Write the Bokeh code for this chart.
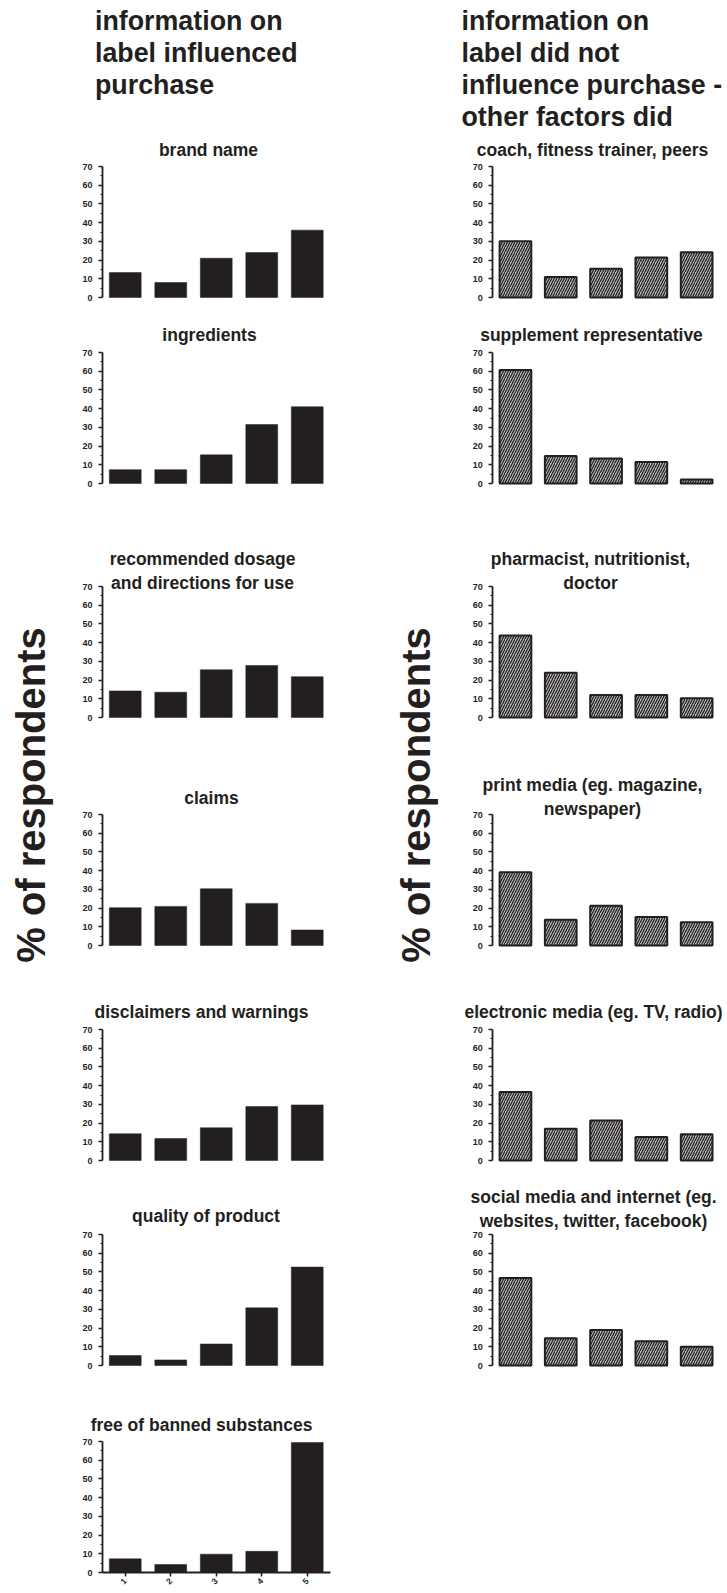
from bokeh.plotting import figure
from bokeh.layouts import row, column
from bokeh.models import Range1d, Label, FixedTicker, ColumnDataSource
from bokeh.core.properties import value
from bokeh.embed import file_html
from bokeh.resources import INLINE
import math

# ---------------- data ----------------
categories = [1, 2, 3, 4, 5]
x_tick_labels = ["1", "2", "3", "4", "5"]
y_ticks = [0, 10, 20, 30, 40, 50, 60, 70]
y_minor_ticks = [5, 15, 25, 35, 45, 55, 65]

heading_left = ["information on", "label influenced", "purchase"]
heading_right = ["information on", "label did not", "influence purchase -", "other factors did"]
y_title = "% of respondents"

left_titles = ["brand name", "ingredients", "recommended dosage\nand directions for use",
               "claims", "disclaimers and warnings", "quality of product",
               "free of banned substances"]
brand_name = [13.3, 8.0, 21.0, 24.0, 36.0]
ingredients = [7.4, 7.4, 15.3, 31.5, 41.0]
dosage_directions = [14.2, 13.5, 25.5, 27.8, 21.8]
claims = [20.2, 20.9, 30.3, 22.5, 8.3]
disclaimers_warnings = [14.3, 11.7, 17.5, 28.8, 29.7]
quality_of_product = [5.3, 3.0, 11.5, 30.8, 52.6]
free_of_banned = [7.3, 4.3, 9.8, 11.3, 69.5]
left_values = [brand_name, ingredients, dosage_directions, claims,
               disclaimers_warnings, quality_of_product, free_of_banned]

right_titles = ["coach, fitness trainer, peers", "supplement representative",
                "pharmacist, nutritionist,\ndoctor", "print media (eg. magazine,\nnewspaper)",
                "electronic media (eg. TV, radio)",
                "social media and internet (eg.\nwebsites, twitter, facebook)"]
coach_trainer_peers = [30.1, 10.9, 15.3, 21.4, 24.2]
supplement_rep = [60.6, 14.7, 13.3, 11.5, 2.1]
pharmacist_doctor = [43.8, 23.9, 12.0, 12.0, 10.3]
print_media = [39.2, 13.8, 21.3, 15.2, 12.4]
electronic_media = [36.6, 17.0, 21.4, 12.6, 14.0]
social_media = [46.8, 14.5, 19.0, 13.0, 10.0]
right_values = [coach_trainer_peers, supplement_rep, pharmacist_doctor,
                print_media, electronic_media, social_media]

# ---------------- layout / style (pixels) ----------------
INK = "#231f20"
FONT = "Liberation Sans"
TOTAL_H = 1592
HEADER_H = 132
FIG_TOP = [132, 303, 489, 723, 951, 1166, 1371]
FRAME_70 = [166, 352, 586, 814, 1029, 1234, 1441]
FRAME_0 = [297, 483, 717, 945, 1160, 1365, 1572]
BELOW0 = 6            # frame extension below the zero line (panels 1-6)
LAST_TITLE_H = 65     # height of the separate title strip of the last panel
LAST_BOTTOM = 20
LEFT_GAP = [17, 17.5, 4.7, 17, 18, 18.5, 16.5]
RIGHT_GAP = [17, 17.5, 4.7, 7, 18, 15.5]
LEFT_TCX = [208, 209, 202, 211, 201, 205.5, 201]
RIGHT_TCX = [592, 591, 590, 592, 593, 593]
TITLE_SIZE = 17.5
LINE_HF = 1.2
HEAD_SIZE = "26.8px"
YT_SIZE = "40px"

LEFT = dict(x0=55, w=285, bl=22, br=5, axis_x=102, pitch=45.5, hx=39.5, ylab=30)
RIGHT = dict(x0=440, w=287, bl=20, br=0, axis_x=492.3, pitch=45.3, hx=21, ylab=415)


def style_axes(p, show_x):
    ya = p.yaxis[0]
    ya.bounds = (0, 70)
    ya.ticker = FixedTicker(ticks=y_ticks, minor_ticks=y_minor_ticks)
    ya.axis_line_color = INK
    ya.axis_line_width = 1.8
    ya.major_tick_line_color = INK
    ya.major_tick_line_width = 1.5
    ya.minor_tick_line_color = INK
    ya.minor_tick_line_width = 1.2
    ya.major_tick_out = 4
    ya.major_tick_in = 0
    ya.minor_tick_out = 2
    ya.minor_tick_in = 0
    ya.major_label_text_font = FONT
    ya.major_label_text_font_style = "bold"
    ya.major_label_text_font_size = "9px"
    ya.major_label_text_color = INK
    ya.major_label_standoff = 6
    if show_x:
        xa = p.xaxis[0]
        xa.bounds = (0.5, 5.5)
        xa.ticker = FixedTicker(ticks=categories)
        xa.major_label_overrides = {c: l for c, l in zip(categories, x_tick_labels)}
        xa.axis_line_color = INK
        xa.axis_line_width = 1.8
        xa.major_tick_line_color = INK
        xa.major_tick_line_width = 1.5
        xa.major_tick_out = 4
        xa.major_tick_in = 0
        xa.minor_tick_out = 0
        xa.minor_tick_in = 0
        xa.major_label_orientation = math.pi / 4
        xa.major_label_text_font = FONT
        xa.major_label_text_font_style = "bold"
        xa.major_label_text_font_size = "8.5px"
        xa.major_label_text_color = INK
        xa.major_label_standoff = 3


def draw_bars(p, vals, hatched):
    src = ColumnDataSource(dict(x=categories, top=vals))
    if hatched:
        p.vbar(x="x", top="top", bottom=0, width=0.7, source=src,
               fill_color="#c4c4c4", line_color=INK, line_width=2,
               hatch_pattern=value("/"), hatch_color=INK, hatch_scale=5, hatch_weight=1.3)
    else:
        p.vbar(x="x", top="top", bottom=0, width=0.7, source=src,
               fill_color=INK, line_color=INK, line_width=0.5)


def title_label(text, x, y, dx=0, dy=0):
    n_lines = text.count("\n") + 1
    return Label(x=x, y=y, x_offset=dx, y_offset=dy + (n_lines - 1) * TITLE_SIZE * LINE_HF / 2,
                 text=text, text_align="center", text_baseline="middle", text_font=FONT,
                 text_font_style="bold", text_font_size=f"{TITLE_SIZE}px",
                 text_color=INK, text_line_height=LINE_HF)


def panel(i, title, vals, hatched, geo, gap, tcx):
    """Panel whose frame also covers its title; y axis pinned at x=0.5."""
    px_per_unit = (FRAME_0[i] - FRAME_70[i]) / 70
    height = FRAME_0[i] - FIG_TOP[i] + BELOW0
    f_left = geo["x0"] + geo["bl"]
    f_right = geo["x0"] + geo["w"] - geo["br"]
    x_start = 0.5 - (geo["axis_x"] - f_left) / geo["pitch"]
    x_end = 0.5 + (f_right - geo["axis_x"]) / geo["pitch"]
    y_start = -BELOW0 / px_per_unit
    y_end = (FRAME_0[i] - FIG_TOP[i]) / px_per_unit
    p = figure(width=geo["w"], height=height, x_range=Range1d(x_start, x_end),
               y_range=Range1d(y_start, y_end), output_backend="svg", toolbar_location=None,
               min_border_left=geo["bl"], min_border_right=geo["br"], min_border_top=0,
               min_border_bottom=0, frame_align=False, x_axis_location=None,
               outline_line_color=None, background_fill_color="white", border_fill_color="white")
    p.grid.visible = False
    draw_bars(p, vals, hatched)
    style_axes(p, False)
    p.yaxis[0].fixed_location = 0.5
    dx = tcx - (geo["axis_x"] + 2.5 * geo["pitch"])
    p.add_layout(title_label(title, 3, 70, dx, gap))
    return p


def blank(width, height):
    p = figure(width=width, height=height, x_range=Range1d(0, width), y_range=Range1d(0, height),
               output_backend="svg", toolbar_location=None, min_border=0, frame_align=False,
               x_axis_location=None, y_axis_location=None, outline_line_color=None,
               background_fill_color="white", border_fill_color="white")
    p.grid.visible = False
    return p


def last_panel(i, title, vals, hatched, geo, gap, tcx):
    """Bottom panel: title in its own strip, regular axes with x labels."""
    strip = blank(geo["w"], LAST_TITLE_H)
    strip_top = FIG_TOP[i]
    strip.add_layout(title_label(title, tcx - geo["x0"],
                                 LAST_TITLE_H - (FRAME_70[i] - gap - strip_top)))
    top = strip_top + LAST_TITLE_H
    bl = geo["axis_x"] - geo["x0"]
    f_right = geo["x0"] + geo["w"] - geo["br"]
    p = figure(width=geo["w"], height=FRAME_0[i] - top + LAST_BOTTOM,
               x_range=Range1d(0.5, 0.5 + (f_right - geo["axis_x"]) / geo["pitch"]),
               y_range=Range1d(0, 70), output_backend="svg", toolbar_location=None,
               min_border_left=bl, min_border_right=geo["br"],
               min_border_top=FRAME_70[i] - top, min_border_bottom=LAST_BOTTOM,
               frame_align=False, outline_line_color=None,
               background_fill_color="white", border_fill_color="white")
    p.grid.visible = False
    draw_bars(p, vals, hatched)
    style_axes(p, True)
    return [strip, p]


def header(geo, lines):
    p = blank(geo["w"], HEADER_H)
    centers = [20.3, 52.8, 84.3, 116.8]
    for t, yy in zip(lines, centers):
        p.add_layout(Label(x=geo["hx"], y=HEADER_H - yy, text=t, text_align="left",
                           text_baseline="middle", text_font=FONT, text_font_style="bold",
                           text_font_size=HEAD_SIZE, text_color=INK))
    return p


def ylabel_fig(width, xc):
    p = blank(width, TOTAL_H)
    p.add_layout(Label(x=xc, y=TOTAL_H - 794.5, text=y_title, angle=math.pi / 2,
                       text_align="center", text_baseline="middle", text_font=FONT,
                       text_font_style="bold", text_font_size=YT_SIZE, text_color=INK))
    return p


n_left = len(left_titles)
left_items = []
for i, (t, v) in enumerate(zip(left_titles, left_values)):
    if i == n_left - 1:
        left_items += last_panel(i, t, v, False, LEFT, LEFT_GAP[i], LEFT_TCX[i])
    else:
        left_items.append(panel(i, t, v, False, LEFT, LEFT_GAP[i], LEFT_TCX[i]))
right_items = [panel(i, t, v, True, RIGHT, RIGHT_GAP[i], RIGHT_TCX[i])
               for i, (t, v) in enumerate(zip(right_titles, right_values))]

mid_x0 = LEFT["x0"] + LEFT["w"]
layout = row(
    ylabel_fig(LEFT["x0"], LEFT["ylab"]),
    column(header(LEFT, heading_left), *left_items, spacing=0),
    ylabel_fig(RIGHT["x0"] - mid_x0, RIGHT["ylab"] - mid_x0),
    column(header(RIGHT, heading_right), *right_items, spacing=0),
    spacing=0,
)

open("out.html", "w").write(file_html(layout, INLINE))
